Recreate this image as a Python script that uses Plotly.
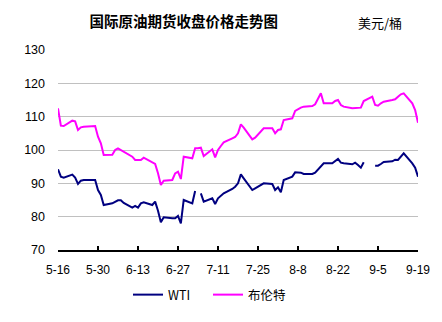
import plotly.graph_objects as go

# Trading dates (2012); WTI has no settlement on 7-4 and 9-3
dates = [
    "2012-05-16", "2012-05-17", "2012-05-18", "2012-05-21", "2012-05-22", "2012-05-23",
    "2012-05-24", "2012-05-25", "2012-05-29", "2012-05-30", "2012-05-31",
    "2012-06-01", "2012-06-04", "2012-06-05", "2012-06-06", "2012-06-07", "2012-06-08",
    "2012-06-11", "2012-06-12", "2012-06-13", "2012-06-14", "2012-06-15", "2012-06-18",
    "2012-06-19", "2012-06-20", "2012-06-21", "2012-06-22", "2012-06-25", "2012-06-26",
    "2012-06-27", "2012-06-28", "2012-06-29",
    "2012-07-02", "2012-07-03", "2012-07-04", "2012-07-05", "2012-07-06", "2012-07-09",
    "2012-07-10", "2012-07-11", "2012-07-12", "2012-07-13", "2012-07-16", "2012-07-17",
    "2012-07-18", "2012-07-19", "2012-07-20", "2012-07-23", "2012-07-24", "2012-07-25",
    "2012-07-26", "2012-07-27", "2012-07-30", "2012-07-31",
    "2012-08-01", "2012-08-02", "2012-08-03", "2012-08-06", "2012-08-07", "2012-08-08",
    "2012-08-09", "2012-08-10", "2012-08-13", "2012-08-14", "2012-08-15", "2012-08-16",
    "2012-08-17", "2012-08-20", "2012-08-21", "2012-08-22", "2012-08-23", "2012-08-24",
    "2012-08-27", "2012-08-28", "2012-08-29", "2012-08-30", "2012-08-31",
    "2012-09-03", "2012-09-04", "2012-09-05", "2012-09-06", "2012-09-07", "2012-09-10",
    "2012-09-11", "2012-09-12", "2012-09-13", "2012-09-14", "2012-09-17", "2012-09-18",
    "2012-09-19",
]

wti = [
    94.2, 92.0, 91.7, 92.6, 91.7, 89.8, 90.8, 91.0, 91.0, 88.0, 86.5,
    83.5, 84.0, 84.5, 84.9, 84.9, 84.1, 82.7, 83.2, 82.7, 84.0, 84.3, 83.5,
    84.5, 81.8, 78.3, 79.8, 79.5, 79.5, 80.2, 78.0, 85.0,
    84.0, 87.7, None, 87.0, 84.5, 85.5, 83.8, 85.5, 86.2, 87.0, 88.3, 89.0,
    90.0, 92.7, 91.5, 88.0, 88.5, 89.0, 89.5, 90.0, 89.8, 88.0,
    88.8, 87.3, 91.0, 92.0, 93.3, 93.3, 93.2, 92.8, 92.8, 93.2, 94.2, 95.2,
    96.0, 96.0, 96.7, 97.3, 96.2, 96.0, 95.7, 96.2, 95.5, 94.7, 96.3,
    None, 95.3, 95.3, 95.8, 96.4, 96.6, 97.1, 97.0, 98.0, 99.0, 96.0, 94.7, 92.0,
]

brent = [
    112.5, 107.3, 107.2, 108.8, 108.6, 106.0, 106.8, 107.0, 107.2, 104.0, 102.0,
    98.5, 98.6, 100.0, 100.5, 100.0, 99.5, 98.0, 97.0, 97.0, 97.0, 97.7, 96.2,
    95.8, 93.0, 89.5, 90.8, 91.0, 93.0, 93.5, 91.3, 98.0,
    97.5, 100.5, 100.5, 100.7, 98.2, 100.2, 97.8, 100.0, 101.2, 102.3, 103.5, 103.9,
    105.0, 107.7, 106.7, 103.2, 103.7, 104.7, 105.5, 106.5, 106.5, 105.0,
    106.0, 106.2, 109.0, 109.5, 111.7, 112.3, 112.7, 113.0, 113.2, 113.7, 115.5, 117.0,
    114.0, 114.0, 114.7, 115.0, 113.5, 113.0, 112.5, 112.5, 112.5, 112.7, 114.7,
    116.0, 113.5, 113.3, 114.0, 114.5, 115.0, 115.2, 116.0, 116.7, 117.0, 114.0, 112.0, 108.2,
]

y_ticks = [70, 80, 90, 100, 110, 120, 130]

LATIN = "Arial, 'Liberation Sans', sans-serif"
CJK = "'Noto Sans CJK SC', sans-serif"

fig = go.Figure()
fig.add_trace(go.Scatter(
    x=dates, y=wti, name="WTI", mode="lines",
    line=dict(color="#000080", width=2), connectgaps=False,
    legend="legend", showlegend=True,
))
fig.add_trace(go.Scatter(
    x=dates, y=brent, name="布伦特", mode="lines",
    line=dict(color="#FF00FF", width=2), connectgaps=False,
    legend="legend2", showlegend=True,
))

legend_common = dict(
    orientation="h", yanchor="middle", xanchor="left",
    bgcolor="rgba(0,0,0,0)", borderwidth=0,
    font=dict(family=CJK, size=12.5, color="#000000"),
)

fig.update_layout(
    width=442, height=322,
    showlegend=True,
    margin=dict(l=58, r=24, t=50, b=72),
    paper_bgcolor="#FFFFFF", plot_bgcolor="#FFFFFF",
    title=dict(
        text="<b>国际原油期货收盘价格走势图</b>",
        x=0.416, xref="container", xanchor="center",
        y=1 - 22 / 322, yref="container", yanchor="middle",
        font=dict(family=CJK, size=14.5, color="#000000"),
    ),
    xaxis=dict(
        type="date",
        range=["2012-05-16", "2012-09-19"],
        tick0="2012-05-16", dtick=14 * 86400000,
        tickformat="%-m-%-d",
        showgrid=False, zeroline=False,
        showline=True, linecolor="#000000", linewidth=2,
        ticks="inside", ticklen=4, tickwidth=2, tickcolor="#000000",
        ticklabelstandoff=8,
        tickfont=dict(family=LATIN, size=12, color="#000000"),
    ),
    yaxis=dict(
        range=[70, 130], tickvals=y_ticks,
        showgrid=True, gridcolor="#C0C0C0", gridwidth=1,
        zeroline=False, showline=False, ticks="",
        ticklabelstandoff=12,
        tickfont=dict(family=LATIN, size=12.5, color="#000000"),
    ),
    legend=dict(x=(128 - 58) / 360, y=(250 - 295) / 200, **legend_common),
    legend2=dict(x=(208 - 58) / 360, y=(250 - 295) / 200, **legend_common),
    annotations=[dict(
        text="美元/桶", x=(380 - 58) / 360, y=(250 - 22) / 200,
        xref="paper", yref="paper", xanchor="center", yanchor="middle",
        showarrow=False, font=dict(family=CJK, size=13, color="#000000"),
    )],
)

fig.write_html("out.html")
